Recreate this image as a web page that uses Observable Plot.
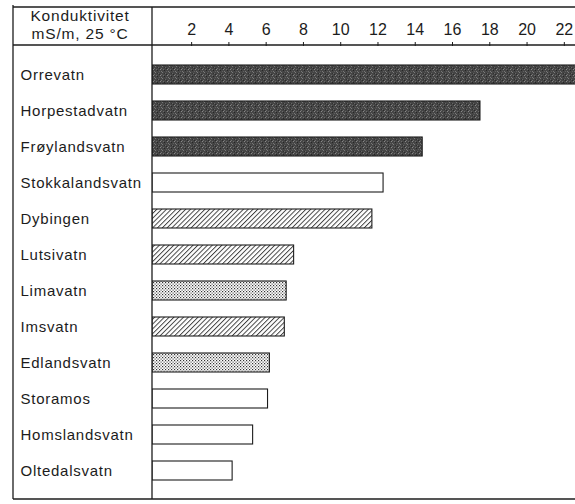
<!DOCTYPE html>
<html><head><meta charset="utf-8">
<script src="https://cdn.jsdelivr.net/npm/d3@7"></script>
<script src="https://cdn.jsdelivr.net/npm/@observablehq/plot@0.6"></script>
<style>body{margin:0;background:#fff} svg{display:block}</style>
</head><body><div id="chart"></div>
<script>
const lakes = ["Orrevatn","Horpestadvatn","Frøylandsvatn","Stokkalandsvatn","Dybingen","Lutsivatn","Limavatn","Imsvatn","Edlandsvatn","Storamos","Homslandsvatn","Oltedalsvatn"];
const conductivity = [22.8, 17.5, 14.4, 12.3, 11.7, 7.5, 7.1, 7.0, 6.2, 6.1, 5.3, 4.2];
const lakeGroup = ["dark","dark","dark","open","hatch","hatch","dots","hatch","dots","open","open","open"];
const xTicks = [2,4,6,8,10,12,14,16,18,20,22];
const headerLines = ["Konduktivitet","mS/m, 25 °C"];

const data = lakes.map((name,i)=>({name, value: conductivity[i], group: lakeGroup[i]}));
const groupFill = {dark: "url(#p-dark)", open: "white", hatch: "url(#p-hatch)", dots: "url(#p-dots)"};

const W = 575, H = 504;
const ink = "#1c1c1c";
const chart = Plot.plot({
  width: W, height: H,
  marginLeft: 152, marginRight: 0, marginTop: 45, marginBottom: 5,
  style: {fontFamily: "'Liberation Sans', Arial, sans-serif", fontSize: "15px", color: ink, background: "white"},
  x: {domain: [-0.1, 22.6], label: null},
  y: {domain: lakes, range: [54.4, 490.7], paddingInner: 0.46, paddingOuter: 0.23, label: null},
  marks: [
    ...Object.keys(groupFill).map(gname =>
      Plot.barX(data.filter(d => d.group === gname), {x1: -0.1, x2: "value", y: "name", fill: groupFill[gname], stroke: ink, strokeWidth: 1.1, clip: true})),
    Plot.axisX(xTicks, {anchor: "top", tickSize: 4, tickPadding: 7, fontSize: 16, stroke: ink, fill: ink}),
    Plot.axisY({tickSize: 0, tickPadding: 0, textAnchor: "start", dx: -132, fontSize: 15, fill: ink})
  ]
});
document.getElementById("chart").appendChild(chart);

const svg = d3.select(chart);
svg.selectAll('g[aria-label="y-axis tick label"] text').style("letter-spacing","0.75px");
const defs = svg.insert("defs", ":first-child");
// dark grainy fill
const pd = defs.append("pattern").attr("id","p-dark").attr("patternUnits","userSpaceOnUse").attr("width",7).attr("height",6);
pd.append("rect").attr("width",7).attr("height",6).attr("fill","#454545");
[[1,0,"#7a7a7a"],[4,1,"#666"],[6,3,"#888"],[2,3,"#6a6a6a"],[0,5,"#777"],[5,5,"#5f5f5f"],[3,4,"#262626"],[5,2,"#2a2a2a"],[0,2,"#707070"],[3,1,"#303030"]].forEach(([x,y,c])=>
  pd.append("rect").attr("x",x).attr("y",y).attr("width",1).attr("height",1).attr("fill",c));
// hatch
const ph = defs.append("pattern").attr("id","p-hatch").attr("patternUnits","userSpaceOnUse").attr("width",3.4).attr("height",3.4).attr("patternTransform","rotate(45)");
ph.append("rect").attr("width",3.4).attr("height",3.4).attr("fill","white");
ph.append("line").attr("x1",0.5).attr("y1",0).attr("x2",0.5).attr("y2",3.4).attr("stroke","#333").attr("stroke-width",0.9);
// dots
const pdots = defs.append("pattern").attr("id","p-dots").attr("patternUnits","userSpaceOnUse").attr("width",3).attr("height",3);
pdots.append("rect").attr("width",3).attr("height",3).attr("fill","white");
pdots.append("rect").attr("x",0).attr("y",0).attr("width",1.2).attr("height",1.2).attr("fill","#333");
pdots.append("rect").attr("x",1.5).attr("y",1.5).attr("width",1.2).attr("height",1.2).attr("fill","#555");

// table frame lines
const g = svg.append("g").attr("stroke", ink).attr("stroke-width", 1.3).attr("fill","none");
const line = (x1,y1,x2,y2)=> g.append("line").attr("x1",x1).attr("y1",y1).attr("x2",x2).attr("y2",y2);
line(13,5,13,499);
line(13,7,575,7);
line(13,45,575,45);
line(152,7,152,499);
line(13,499,575,499);

// header text
const ht = svg.append("g").attr("fill", ink).attr("font-size", 15.5).attr("text-anchor","middle").style("letter-spacing","0.8px");
ht.append("text").attr("x",80).attr("y",21).text(headerLines[0]);
ht.append("text").attr("x",80).attr("y",39).text(headerLines[1]);
</script></body></html>
